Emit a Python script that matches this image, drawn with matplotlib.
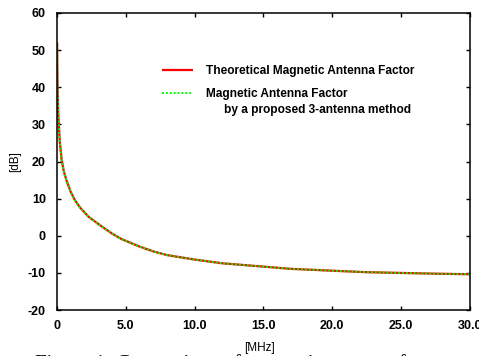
import numpy as np
import matplotlib
matplotlib.use("Agg")
import matplotlib.pyplot as plt

plt.rcParams['font.family'] = ['Liberation Sans', 'DejaVu Sans']
plt.rcParams['axes.unicode_minus'] = False

# frequency [MHz] and antenna factor [dB]
freq = [0.01, 0.02, 0.05, 0.1, 0.2, 0.34, 0.5, 0.7, 1.0, 1.3, 1.7, 2.3,
        3.0, 3.3, 4.0, 4.7, 6.0, 7.0, 8.0, 9.0, 10.0, 12.0, 14.0, 15.0,
        17.0, 20.0, 22.5, 25.0, 27.5, 30.0]
af_theory = [52.0, 46.0, 38.0, 32.0, 25.5, 20.4, 17.3, 14.8, 11.8, 9.6, 7.5, 5.1,
             3.2, 2.4, 0.6, -0.9, -2.9, -4.2, -5.2, -5.8, -6.4, -7.4, -8.0, -8.3,
             -8.9, -9.4, -9.8, -10.0, -10.2, -10.35]
af_measured = [52.0, 46.0, 38.0, 32.0, 25.5, 20.4, 17.3, 14.8, 11.8, 9.6, 7.5, 5.1,
               3.2, 2.4, 0.6, -0.9, -2.9, -4.2, -5.2, -5.8, -6.4, -7.4, -8.0, -8.3,
               -8.9, -9.4, -9.8, -10.0, -10.2, -10.35]

xticks = [0, 5, 10, 15, 20, 25, 30]
xticklabels = ['0', '5.0', '10.0', '15.0', '20.0', '25.0', '30.0']
yticks = [-20, -10, 0, 10, 20, 30, 40, 50, 60]

fig = plt.figure(figsize=(4.79, 3.56), dpi=100)
ax = fig.add_axes([0.119, 0.129, 0.862, 0.8345])

ax.plot(freq, af_theory, color='#ff0000', lw=1.6, solid_capstyle='butt',
        label='Theoretical Magnetic Antenna Factor')
ax.plot(freq, af_measured, color='#00ff00', lw=1.4, ls=(0, (1, 1)),
        label='Magnetic Antenna Factor')

ax.set_xlim(0, 30)
ax.set_ylim(-20, 60)
ax.set_xticks(xticks)
ax.set_xticklabels(xticklabels)
ax.set_yticks(yticks)
ax.tick_params(direction='in', top=True, right=True, length=3, width=1,
               labelsize=9)
ax.tick_params(axis='x', pad=7)
ax.tick_params(axis='y', pad=8)
for lab in ax.get_xticklabels() + ax.get_yticklabels():
    lab.set_fontweight('bold')
for s in ax.spines.values():
    s.set_linewidth(1.1)

ax.set_xlabel('[MHz]', fontsize=8.5)
ax.xaxis.set_label_coords(0.49, -0.108)
ax.set_ylabel('[dB]', fontsize=8.5)
ax.yaxis.set_label_coords(-0.088, 0.5)

leg = ax.legend(loc='upper left', bbox_to_anchor=(0.2535, 0.826), frameon=False,
                prop={'weight': 'bold', 'size': 8.6}, borderpad=0,
                borderaxespad=0, handlelength=2.6, handletextpad=1.1,
                labelspacing=0.95)
ax.text(0.405, 0.672, 'by a proposed 3-antenna method', transform=ax.transAxes,
        fontsize=8.6, fontweight='bold', va='center', ha='left')

fig.text(0.073, 0.006, 'Figure 1: Comparison of magnetic antenna factor',
         family='Liberation Serif', fontsize=15, va='top', ha='left')

fig.savefig('out.png', dpi=100)
